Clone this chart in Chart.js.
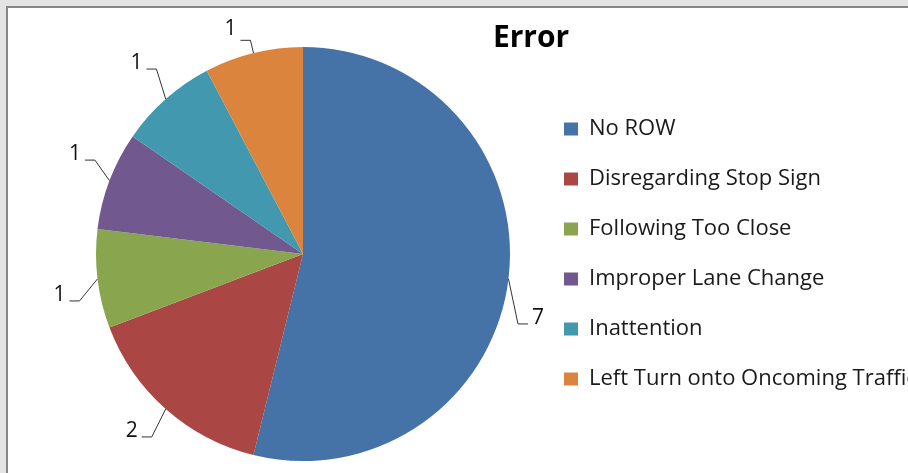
<!DOCTYPE html>
<html>
<head>
<meta charset="utf-8">
<script src="https://cdn.jsdelivr.net/npm/chart.js@4.4.1/dist/chart.umd.min.js"></script>
<style>
  html, body { margin: 0; padding: 0; overflow: hidden; background: #e4e4e4; }
  #frame {
    position: absolute; left: 6px; top: 6px; width: 1100px; height: 600px;
    border-left: 2px solid #868686; border-top: 2px solid #868686;
    background: #fff;
  }
  #errorChart { position: absolute; left: 0; top: 0; }
</style>
</head>
<body>
<div id="frame">
  <canvas id="errorChart" width="1000" height="465"></canvas>
</div>
<script>
const categories = ['No ROW', 'Disregarding Stop Sign', 'Following Too Close',
                    'Improper Lane Change', 'Inattention', 'Left Turn onto Oncoming Traffic'];
const counts = [7, 2, 1, 1, 1, 1];
const sliceColors = ['#4572a7', '#aa4643', '#89a54e', '#71588f', '#4198af', '#db843d'];

// leader line elbows (dx, dy from the slice edge), tail direction and text lift
const leaders = [
    { dx: 9.5,  dy: 45,    side: 1,  lift: 0 },
    { dx: -14,  dy: 28,    side: -1, lift: 0 },
    { dx: -18,  dy: 22,    side: -1, lift: 0 },
    { dx: -14.5, dy: -20.5, side: -1, lift: 0 },
    { dx: -9.3, dy: -30,   side: -1, lift: 0 },
    { dx: -3,   dy: -12.7, side: -1, lift: 5 }
];

const FONT = '"Open Sans", sans-serif';

const leaderLabels = {
    id: 'leaderLabels',
    afterDatasetsDraw(chart) {
        const ctx = chart.ctx;
        const meta = chart.getDatasetMeta(0);
        const values = chart.data.datasets[0].data;
        ctx.save();
        ctx.strokeStyle = '#333';
        ctx.lineWidth = 1;
        ctx.fillStyle = '#111';
        ctx.font = '21px ' + FONT;
        ctx.textBaseline = 'alphabetic';
        meta.data.forEach((arc, i) => {
            const p = arc.getProps(['x', 'y', 'startAngle', 'endAngle', 'outerRadius'], true);
            const mid = (p.startAngle + p.endAngle) / 2;
            const ex = p.x + p.outerRadius * Math.cos(mid);
            const ey = p.y + p.outerRadius * Math.sin(mid);
            const l = leaders[i];
            const bx = ex + l.dx, by = ey + l.dy;
            const tx = bx + 10 * l.side;
            ctx.beginPath();
            ctx.moveTo(ex, ey);
            ctx.lineTo(bx, by);
            ctx.lineTo(tx, by);
            ctx.stroke();
            ctx.textAlign = l.side > 0 ? 'left' : 'right';
            ctx.fillText(String(values[i]), tx + 4 * l.side, by - l.lift);
        });
        ctx.restore();
    },
    afterDraw(chart) {
        const ctx = chart.ctx;
        ctx.save();
        ctx.font = 'bold 30px ' + FONT;
        ctx.fillStyle = '#000';
        ctx.textAlign = 'center';
        ctx.textBaseline = 'alphabetic';
        ctx.fillText('Error', 523, 39);
        ctx.restore();
    }
};

new Chart(document.getElementById('errorChart'), {
    type: 'pie',
    data: {
        labels: categories,
        datasets: [{
            data: counts,
            backgroundColor: sliceColors,
            borderWidth: 0,
            radius: 207,
            clip: false
        }]
    },
    options: {
        responsive: false,
        animation: false,
        layout: { padding: { left: 62, right: 92, top: 40, bottom: 13 } },
        plugins: {
            title: { display: false },
            tooltip: { enabled: false },
            legend: {
                position: 'right',
                align: 'center',
                maxWidth: 380,
                labels: {
                    boxWidth: 14,
                    boxHeight: 13,
                    padding: 28,
                    color: '#1a1a1a',
                    font: { family: FONT, size: 22 }
                }
            }
        }
    },
    plugins: [leaderLabels]
});
</script>
</body>
</html>
